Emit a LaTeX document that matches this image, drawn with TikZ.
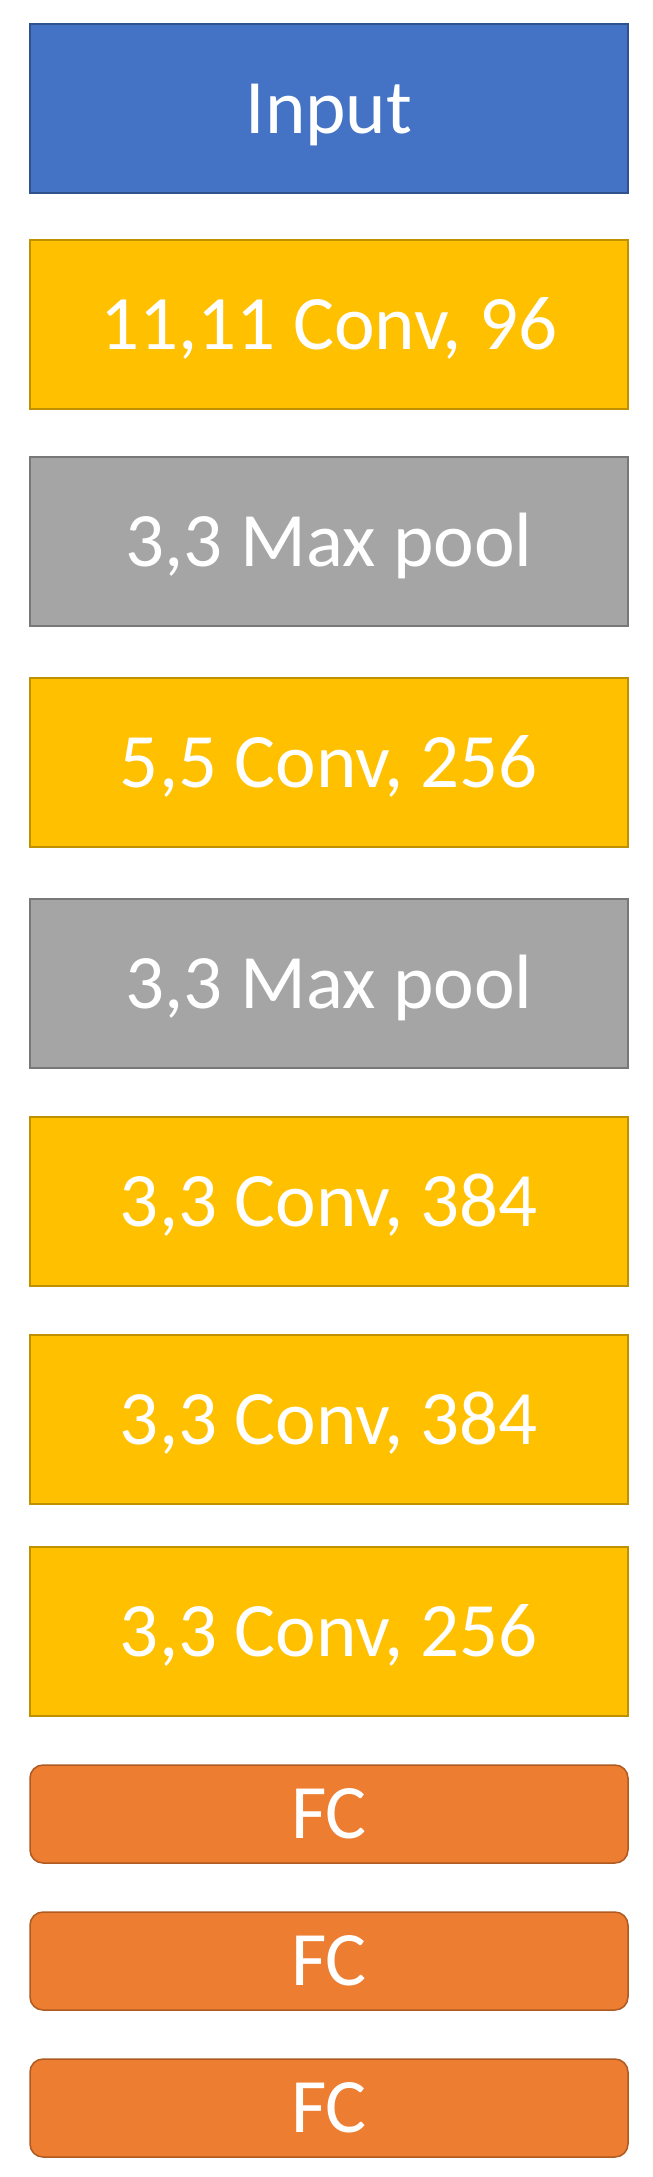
\documentclass[tikz,border=0pt]{standalone}
\usepackage{fontspec}
\setmainfont{Carlito}
\definecolor{inblue}{HTML}{4472C4}
\definecolor{inblueD}{HTML}{2F528F}
\definecolor{convY}{HTML}{FFC000}
\definecolor{convYD}{HTML}{BF9000}
\definecolor{poolG}{HTML}{A5A5A5}
\definecolor{poolGD}{HTML}{787878}
\definecolor{fcO}{HTML}{ED7D31}
\definecolor{fcOD}{HTML}{AE5A21}
\begin{document}
\begin{tikzpicture}[x=1pt,y=-1pt,
  blk/.style={rectangle, minimum width=598pt, inner sep=0pt, outer sep=0pt,
    line width=1.5pt, text=white, font=\fontsize{77}{84}\selectfont,
    text height=49pt, text depth=0pt, anchor=north},
  inputbox/.style={blk, fill=inblue, draw=inblueD, minimum height=169pt},
  convbox/.style={blk, fill=convY, draw=convYD, minimum height=169pt},
  poolbox/.style={blk, fill=poolG, draw=poolGD, minimum height=169pt},
  fcbox/.style={blk, fill=fcO, draw=fcOD, minimum height=98pt, rounded corners=13pt}]
\useasboundingbox (0,0) rectangle (653,2177);
\node[inputbox] (in) at (329,24) {Input};
\node[convbox] (c1) at (329,240) {11,11 Conv, 96};
\node[poolbox] (p1) at (329,457) {3,3 Max pool};
\node[convbox] (c2) at (329,678) {5,5 Conv, 256};
\node[poolbox] (p2) at (329,899) {3,3 Max pool};
\node[convbox] (c3) at (329,1117) {3,3 Conv, 384};
\node[convbox] (c4) at (329,1335) {3,3 Conv, 384};
\node[convbox] (c5) at (329,1547) {3,3 Conv, 256};
\node[fcbox] (f1) at (329,1765) {FC};
\node[fcbox] (f2) at (329,1912) {FC};
\node[fcbox] (f3) at (329,2059) {FC};
\end{tikzpicture}
\end{document}
